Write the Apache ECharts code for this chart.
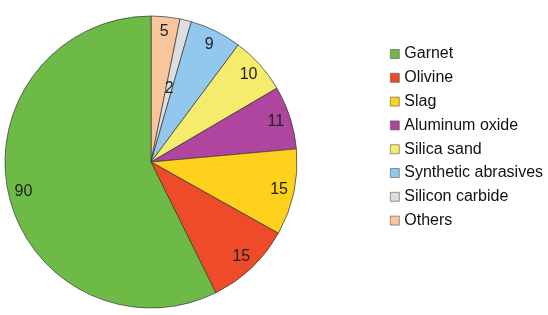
<!DOCTYPE html>
<html>
<head>
<meta charset="utf-8">
<script src="https://cdn.jsdelivr.net/npm/echarts@6/dist/echarts.min.js"></script>
<style>
  html, body { margin: 0; padding: 0; background: #fff; }
  #chart { width: 548px; height: 315px; }
</style>
</head>
<body>
<div id="chart"></div>
<script>
// slices in drawing order, clockwise from 12 o'clock
const names = ['Others', 'Silicon carbide', 'Synthetic abrasives', 'Silica sand', 'Aluminum oxide', 'Slag', 'Olivine', 'Garnet']
const values = [5, 2, 9, 10, 11, 15, 15, 90]
const colors = ['#f8c59c', '#dedede', '#92c8ee', '#f5ec6e', '#b0459f', '#fdd11c', '#ee4b29', '#6dbb46']
// legend is listed the other way round
const legendOrder = ['Garnet', 'Olivine', 'Slag', 'Aluminum oxide', 'Silica sand', 'Synthetic abrasives', 'Silicon carbide', 'Others']

const chart = echarts.init(document.getElementById('chart'))

const labelFont = {
  color: '#222',
  fontSize: 16,
  fontFamily: 'Liberation Sans, Arial, sans-serif',
  formatter: '{c}'
}

const option = {
  animation: false,
  color: colors,
  legend: {
    orient: 'vertical',
    left: 390,
    top: 46,
    padding: 0,
    itemWidth: 9,
    itemHeight: 9,
    itemGap: 7.8,
    icon: 'rect',
    data: legendOrder,
    itemStyle: { borderColor: '#555', borderWidth: 0.6 },
    textStyle: {
      color: '#111',
      fontSize: 16,
      fontFamily: 'Liberation Sans, Arial, sans-serif'
    }
  },
  series: [
    {
      // the pie itself; only the tiny slice keeps its label near the centre
      type: 'pie',
      center: [151, 162],
      radius: [0, 146],
      startAngle: 90,
      clockwise: true,
      silent: true,
      avoidLabelOverlap: false,
      labelLine: { show: false },
      itemStyle: { borderColor: '#333', borderWidth: 0.7 },
      data: names.map((n, i) => ({
        name: n,
        value: values[i],
        label: { show: i === 1, position: 'inside', ...labelFont }
      }))
    },
    {
      // transparent ring that only carries the outer labels
      type: 'pie',
      center: [151, 162],
      radius: [110, 146],
      startAngle: 90,
      clockwise: true,
      silent: true,
      avoidLabelOverlap: false,
      labelLayout: { hideOverlap: false },
      labelLine: { show: false },
      itemStyle: { color: 'rgba(0,0,0,0)', borderWidth: 0 },
      emphasis: { disabled: true },
      data: names.map((n, i) => ({
        name: n,
        value: values[i],
        label: { show: i !== 1, position: 'inside', ...labelFont }
      }))
    }
  ]
}

chart.setOption(option)
</script>
</body>
</html>
